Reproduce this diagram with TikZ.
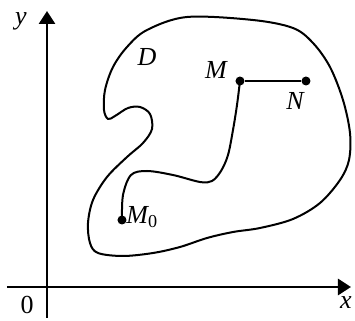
\documentclass[tikz,border=0pt]{standalone}
\usepackage{fontspec}
\setmainfont{Liberation Serif}
\usetikzlibrary{positioning, arrows.meta, calc}

\begin{document}
\begin{tikzpicture}[
    x=0.5pt, y=-0.5pt,
    >={Triangle[length=6.5pt, width=8pt]},
    axis/.style={
        ->,
        line width=1.4pt
    },
    curve/.style={
        line width=1pt,
        line join=round
    },
    dot/.style={
        circle,
        fill=black,
        inner sep=0pt,
        minimum size=4.5pt
    },
    lbl/.style={
        inner sep=0pt,
        font=\fontsize{13}{15}\selectfont\itshape
    }
]

    \useasboundingbox (0,0) rectangle (355,321);

    % Axes
    \coordinate (o) at (47,287);
    \coordinate (xs) at (7,287);
    \coordinate (xe) at (351,287);
    \coordinate (ys) at (47,318);
    \coordinate (ye) at (47,11);
    \draw[axis] (xs) -- (xe);
    \draw[axis] (ys) -- (ye);
    \node[lbl] (xlab) at (346,303) {x};
    \node[lbl] (ylab) at (21,21) {y};
    \node[lbl, font=\fontsize{13}{15}\selectfont] (olab) at (27,305) {0};

    % Region D
    \draw[curve] plot[smooth cycle, tension=0.55] coordinates {
        (187,17) (253,20) (293,28) (313,43) (330,67) (343,100)
        (350,133) (349,160) (340,180) (320,203) (293,219) (260,228)
        (233,232) (207,238) (180,247) (153,253) (123,256) (98,253)
        (90,243) (88,223) (93,200) (107,177) (127,157) (143,143)
        (152,129) (150,114) (140,107) (128,108) (115,116) (108,119)
        (104,110) (105,90) (113,67) (127,47) (147,30)
    };
    \node[lbl] (dlab) at (147,57) {D};

    % Points
    \node[dot] (m0) at (122,220) {};
    \node[dot] (m) at (240,81) {};
    \node[dot] (n) at (306,81) {};
    \node[lbl, anchor=west] (m0lab) at (126,217) {M\textsubscript{\upshape 0}};
    \node[lbl] (mlab) at (216,70) {M};
    \node[lbl] (nlab) at (295,101) {N};

    % Paths
    \draw[curve] plot[smooth, tension=0.55] coordinates {
        (m0.center) (123,195) (131,175) (147,171) (173,175) (200,182)
        (212,181) (221,171) (228,155) (233,130) (237,105) (m.center)
    };
    \draw[curve] (m) -- (n);

\end{tikzpicture}
\end{document}
